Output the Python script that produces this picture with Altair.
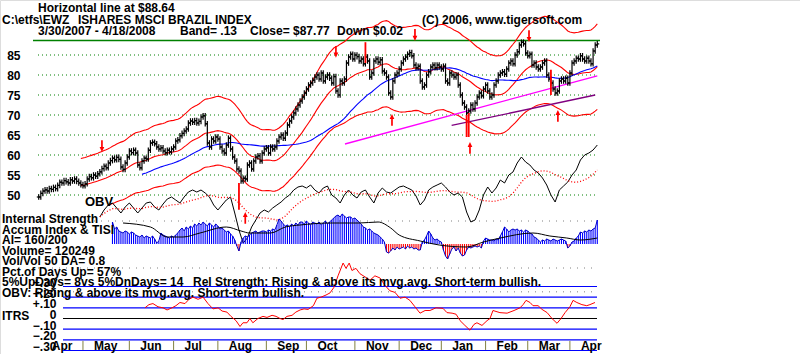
import altair as alt
import pandas as pd
import numpy as np

FONT = "Liberation Sans"

# ---------------- data ----------------
# daily closes, trading day 0 = 3/30/2007 ... day 265 = 4/18/2008
close = [
    49.5, 50.4, 51.0, 51.3, 51.0, 51.6, 51.4, 51.9, 51.6,
    52.4, 53.2, 53.0, 53.6, 53.3, 53.0, 53.8, 53.5, 54.0, 53.4, 53.0,
    52.6, 52.3, 52.8, 54.0, 54.6, 54.3, 55.0, 54.7, 55.3,
    55.8, 56.6, 57.2, 56.8, 58.0, 58.6, 59.2, 58.8, 59.4, 58.9,
    57.0, 56.4, 58.0, 59.5, 61.0, 60.6, 61.2, 60.5,
    57.5, 56.8, 58.5, 59.2, 59.0, 61.2, 63.0, 63.2, 62.8,
    62.0, 61.5, 61.8, 61.0, 60.6, 61.2, 60.8, 61.5, 62.0,
    63.5, 63.8, 64.8, 65.4, 66.0, 66.5,
    68.0, 68.5, 68.2, 68.6, 68.0, 68.4, 69.5, 69.8, 67.8,
    63.0, 62.0, 64.0, 63.5, 64.5, 64.0, 62.0, 61.0, 60.5, 62.5,
    64.2, 61.5, 59.5, 58.5, 56.5, 56.0, 53.5, 54.2, 54.0,
    57.5, 58.0, 56.5, 58.5, 59.5, 59.8, 58.5, 60.5, 61.5,
    61.8, 60.5, 62.0, 61.5, 62.0, 63.5, 64.5, 65.0, 64.2, 65.5,
    67.5, 68.5, 69.5, 70.5, 71.5, 72.5, 73.5, 74.5, 75.5,
    76.5, 77.5, 78.0, 78.7, 79.5, 80.0, 79.0, 80.5, 78.5, 79.5, 80.0,
    79.2, 78.0, 79.6, 76.0, 75.0, 78.5, 78.0, 79.0, 83.0,
    84.5, 85.2, 84.0, 85.0, 84.6, 83.5, 84.0, 82.8, 84.5, 83.5,
    79.5, 80.5, 83.5, 84.0, 83.2, 83.8, 81.0, 80.5, 79.5, 75.5, 74.5,
    78.5, 80.0, 80.5, 81.5, 83.0, 84.0, 84.5, 85.2, 85.6, 84.8,
    82.5, 81.8, 82.2, 78.5, 77.0, 77.5, 80.0, 80.8, 82.0, 82.5,
    81.8, 82.5, 82.0, 81.5, 82.2, 78.5, 78.0, 80.5, 80.0, 79.5,
    80.0, 77.5, 75.0, 73.0, 72.0, 70.5, 71.0, 72.5, 71.5, 73.0,
    74.5, 75.5, 74.8, 76.5, 77.5, 76.0, 74.5, 75.0, 77.5, 78.5,
    80.0, 80.5, 80.8, 80.2, 81.5, 83.0, 83.5, 82.8, 85.0, 85.8,
    87.5, 88.2, 87.8, 85.5, 84.8, 85.2, 82.5, 83.0, 82.0, 81.5,
    82.0, 83.0, 83.5, 80.0, 79.0, 78.0, 76.5, 75.5, 76.0, 78.5,
    79.0, 78.5, 79.2, 78.0, 80.5, 83.0, 83.5, 84.2, 84.0, 84.8,
    84.0, 83.5, 84.2, 83.5, 82.8, 86.0, 87.5, 87.77,
]
signal_days = [95, 155, 203, 204, 243]
signal_high = [53.0, 88.2, 70.0, 70.5, 81.3]
signal_low = [46.3, 83.0, 64.5, 64.5, 75.0]

up_arrow_days = [98, 167.6, 204.6, 246.3]
up_arrow_price = [44.3, 68.8, 61.8, 69.8]
down_arrow_days = [30, 141, 178.5, 232.6]
down_arrow_price = [62.2, 85.8, 90.0, 89.7]

magenta_days = [145.3, 265]
magenta_price = [62.75, 79.8]
purple_days = [195.9, 264]
purple_price = [67.4, 75.0]
horizontal_level = 88.64
price_grid = [50, 55, 60, 65, 70, 75, 80, 85]

# OBV (relative units), every second trading day from day 29
obv_first_day = 29
obv = [28, 35, 40, 42, 37, 32, 38, 42, 37, 32,
       37, 42, 43, 38, 35, 41, 46, 48, 45, 42,
       48, 53, 55, 53, 55, 52, 48, 40, 35, 40,
       45, 48, 32, 15, 2, 7, 18, 25, 32, 35,
       33, 37, 40, 43, 47, 50, 55, 58, 59, 57,
       60, 55, 52, 57, 59, 50, 47, 42, 50, 55,
       50, 47, 53, 55, 48, 42, 52, 57, 53, 52,
       55, 58, 59, 57, 55, 49, 40, 45, 55, 58,
       60, 62, 58, 53, 50, 52, 48, 33, 23, 25,
       35, 50, 58, 52, 57, 65, 62, 70, 73, 82,
       88, 83, 80, 75, 72, 67, 60, 50, 43, 55,
       59, 63, 70, 75, 85, 90, 92, 95, 100]

# Accumulation index (relative units), daily from day 35
ai_first_day = 35
ai = [22, 15, 17, 13,
      12, 11, 13, 12, 10, 12, 11, 9,
      8, 7, 9, 6, 8, 7, 6, 8, 5,
      1, 3,
      11, 9, 8,
      7, 6, 8, 7, 9, 11,
      14, 16, 13, 17, 15, 18, 16,
      20, 18, 21, 19, 22, 20, 18, 21,
      19, 17, 20, 18, 15, 16,
      14, 12, 13, 10, 8,
      4, -2, -7, 2,
      6, 8, 7, 9,
      11, 12, 13, 11, 12, 13,
      13, 12, 14, 13, 15, 14, 19,
      25, 23, 20, 18,
      19, 17, 20, 18, 21, 19, 22,
      22, 20, 23, 21, 19, 22,
      21, 20, 22, 19, 21, 23, 20, 22, 24, 26,
      28, 29, 27, 30, 28, 26, 27,
      27, 25, 26, 24, 22, 20, 17,
      16, 14, 15, 13, 11, 10,
      9, 7, 5, 2,
      -8, -9, -7, -4, -6, -3, -5,
      -4, -3, -5, -2, -4, -3, -5, -4, -6,
      -6, 2, 4,
      8, 13, 10, 6,
      4, 5, 3, 2,
      -6, -12, -15, -10, -5,
      -3, -7, -4,
      -9, -12, -11, -6, -3,
      -4, -3, -2, -3, -2, -4,
      3, 6, 5, 4,
      4, 3, 5, 4, 8, 12,
      17, 15, 12, 14, 15,
      14, 15, 13, 14, 12, 14, 13, 11, 10,
      7, 6, 4, 2,
      4, 3, 5, 4, 3, 5, 4, 3, 4, 5, 4, 3,
      -4, -2,
      2, 3, 6, 8,
      12, 11, 13, 12, 14, 13, 15, 16, 24]

tisi_days = [40, 53, 61, 68.5, 76.5, 89, 96, 100, 110, 117, 124, 138, 152, 161,
             167, 171, 181, 190, 203, 211, 219, 234.5, 242.5, 250.5, 257, 265]
tisi_vals = [21, 17, 7, 7, 11, 17, 13, 11, 11, 17, 19, 21, 21, 22,
             16, 9, 3, -1, -3, 2, 6, 11, 8, 6, 4, 6]

itrs_days = [50.4, 52.3, 54.2, 56.6, 59, 60.9, 63.2, 65.1, 67, 69.4, 71.3, 73.2, 75.6, 78,
             80.3, 82.7, 85.1, 87, 89.3, 91.2, 93.6, 95.5, 96.9, 98.8, 100.2, 101.6, 104,
             106.4, 108.3, 110.7, 112.6, 114.5, 115.9, 117.8, 120.2, 122, 124, 125.9, 127.8,
             130.3, 132, 133.9, 136.3, 138.2, 140, 142, 144.4, 145.8, 147.3, 148.6, 150.5,
             152.4, 154.8, 157.2, 159.5, 161.9, 164.3, 166.6, 169, 171.4, 173.8, 176.1,
             178.5, 180.9, 183.3, 185.6, 188.5, 191.8, 193.7, 196.1, 198, 199.9, 202.2,
             204.6, 206.5, 207.9, 210.3, 212.7, 214.1, 215.5, 218.8, 222.2, 225.5, 228.3,
             229.8, 231.2, 233.1, 234.5, 236.9, 238.8, 241.2, 243.5, 245.9, 247.8, 249.7,
             252, 253.5, 255.3, 257.7, 260, 261.5, 263.9]
itrs_vals = [0.10, 0.13, 0.14, 0.11, 0.10, 0.08, 0.10, 0.12, 0.15, 0.14, 0.18, 0.20, 0.18, 0.20,
             0.14, 0.09, 0.10, 0.07, 0.06, 0.02, -0.02, -0.075, -0.04, -0.04, 0.0, -0.04, 0.0,
             0.02, 0.01, 0.03, 0.02, 0.0, -0.01, 0.02, 0.03, 0.06, 0.08, 0.09, 0.085,
             0.12, 0.19, 0.20, 0.22, 0.24, 0.29, 0.40, 0.52, 0.47, 0.52, 0.45, 0.47,
             0.42, 0.39, 0.36, 0.40, 0.38, 0.31, 0.26, 0.245, 0.19, 0.20, 0.17,
             0.11, 0.05, 0.075, 0.075, 0.10, 0.095, 0.055, 0.05, 0.04, -0.02, -0.065,
             -0.11, -0.055, -0.04, -0.065, -0.02, 0.0, 0.075, 0.055, 0.05, 0.075, 0.10,
             0.13, 0.17, 0.15, 0.12, 0.12, 0.085, 0.055, 0.0, -0.045, 0.0, 0.055,
             0.11, 0.17, 0.15, 0.13, 0.12, 0.13, 0.15]
itrs_levels = [0.3, 0.2, 0.1, -0.1, -0.2, -0.3]
itrs_ticks = [-0.3, -0.2, -0.1, 0.0, 0.1, 0.2, 0.3]

month_names = ["Apr", "May", "Jun", "Jul", "Aug", "Sep", "Oct", "Nov", "Dec",
               "Jan", "Feb", "Mar", "Apr"]
month_start = [1, 21, 43, 64, 85, 108, 127, 150, 171, 191, 212, 232, 252]

# ---------------- tables ----------------
px = pd.DataFrame({"d": np.arange(len(close)), "c": close})
prev = px["c"].shift(1).fillna(px["c"])
px["o"] = prev
px["hi"] = np.maximum(prev, px["c"]) + 0.7
px["lo"] = np.minimum(prev, px["c"]) - 0.7
px["xl"] = px["d"] - 0.9
px["xr"] = px["d"] + 0.9
ma21 = px["c"].rolling(21).mean()
px["ub"] = ma21 * 1.13
px["lb"] = ma21 * 0.87
px["mid"] = ma21
px["ma50"] = px["c"].rolling(50).mean()

sig = pd.DataFrame({"d": signal_days, "hi": signal_high, "lo": signal_low})
upa = pd.DataFrame({"d": up_arrow_days, "p": up_arrow_price})
dna = pd.DataFrame({"d": down_arrow_days, "p": down_arrow_price})
mag = pd.DataFrame({"d": magenta_days, "p": magenta_price})
pur = pd.DataFrame({"d": purple_days, "p": purple_price})
grid = pd.DataFrame({"p": price_grid})
hline = pd.DataFrame({"p": [horizontal_level]})
obv_df = pd.DataFrame({"d": obv_first_day + 2 * np.arange(len(obv)), "v": obv})
ai_df = pd.DataFrame({"d": ai_first_day + np.arange(len(ai)), "a": ai})
ai_df["z"] = 0
tisi_df = pd.DataFrame({"d": tisi_days, "t": tisi_vals})
itrs_df = pd.DataFrame({"d": itrs_days, "r": itrs_vals})
lev_df = pd.DataFrame({"r": itrs_levels})
zero_df = pd.DataFrame({"r": [0.0]})
mon_df = pd.DataFrame({"d": month_start, "m": month_names})
mon_ticks = pd.DataFrame({"d": month_start[1:], "y1": -0.21, "y2": -0.295})
ai_ref = pd.DataFrame({"a": [23, -24]})
itrs_ref = pd.DataFrame({"r": [0.25]})
ONE = pd.DataFrame({"k": [0]})

# ---------------- scales ----------------
X = alt.Scale(domain=[0, 265], range=[38.7, 597.3], nice=False, zero=False)
PY = alt.Scale(domain=[40, 95], range=[235, 15], nice=False, zero=False)
OY = alt.Scale(domain=[0, 100], range=[245, 145], nice=False, zero=False)
AY = alt.Scale(domain=[-30, 30], range=[274, 214], nice=False, zero=False)
IY = alt.Scale(domain=[-0.3, 0.3], range=[350.5, 286.5], nice=False, zero=False)


def xq(f):
    return alt.X(f + ":Q", scale=X, axis=None)


def yq(f, s):
    return alt.Y(f + ":Q", scale=s, axis=None)


def label(s, x, y, size=12, color="black"):
    return alt.Chart(ONE).mark_text(
        text=s, align="left", baseline="middle", font=FONT, fontSize=size,
        fontWeight="bold", color=color
    ).encode(x=alt.value(x), y=alt.value(y))


layers = []

# price grid + horizontal line
layers.append(alt.Chart(grid).mark_rule(color="#008000", strokeWidth=1, strokeDash=[1, 3]).encode(
    x=alt.value(38), x2=alt.value(598), y=yq("p", PY)))
layers.append(alt.Chart(hline).mark_rule(color="#008000", strokeWidth=1.5).encode(
    x=alt.value(33), x2=alt.value(600), y=yq("p", PY)))

# accumulation reference dots + itrs ref dots
layers.append(alt.Chart(ai_ref).mark_rule(color="#808080", strokeWidth=1, strokeDash=[1, 6]).encode(
    x=alt.value(38), x2=alt.value(598), y=yq("a", AY)))
layers.append(alt.Chart(itrs_ref).mark_rule(color="#808080", strokeWidth=1, strokeDash=[1, 6]).encode(
    x=alt.value(38), x2=alt.value(598), y=yq("r", IY)))

# ITRS reference lines
layers.append(alt.Chart(lev_df).mark_rule(color="#0000ff", strokeWidth=1.2).encode(
    x=alt.value(63), x2=alt.value(597), y=yq("r", IY)))
layers.append(alt.Chart(zero_df).mark_rule(color="black", strokeWidth=1.2).encode(
    x=alt.value(63), x2=alt.value(597), y=yq("r", IY)))

# bands and moving averages
layers.append(alt.Chart(px).mark_line(color="red", strokeWidth=1.1).encode(x=xq("d"), y=yq("ub", PY)))
layers.append(alt.Chart(px).mark_line(color="red", strokeWidth=1.1).encode(x=xq("d"), y=yq("mid", PY)))
layers.append(alt.Chart(px).transform_filter(alt.datum.d >= 33).mark_line(color="red", strokeWidth=1.1).encode(
    x=xq("d"), y=yq("lb", PY)))
layers.append(alt.Chart(px).mark_line(color="#0000ff", strokeWidth=1.1).encode(x=xq("d"), y=yq("ma50", PY)))
layers.append(alt.Chart(mag).mark_line(color="#ff00ff", strokeWidth=1.3).encode(x=xq("d"), y=yq("p", PY)))
layers.append(alt.Chart(pur).mark_line(color="#800080", strokeWidth=1.3).encode(x=xq("d"), y=yq("p", PY)))

# price bars
layers.append(alt.Chart(px).mark_rule(color="black", strokeWidth=1.2).encode(
    x=xq("d"),
    y=alt.Y("lo:Q", scale=PY, axis=alt.Axis(
        values=price_grid, orient="left", offset=-20, domain=False, ticks=False, grid=False,
        labelFont=FONT, labelFontSize=12, labelFontWeight="bold", labelColor="black",
        labelPadding=0, labelFlush=False, labelOverlap=False, title=None)),
    y2="hi:Q"))
layers.append(alt.Chart(px).mark_rule(color="black", strokeWidth=1.2).encode(
    x=xq("d"), x2="xr:Q", y=yq("c", PY)))
layers.append(alt.Chart(px).mark_rule(color="black", strokeWidth=1.2).encode(
    x=xq("xl"), x2="d:Q", y=yq("o", PY)))
layers.append(alt.Chart(sig).mark_rule(color="red", strokeWidth=1.8).encode(
    x=xq("d"), y=yq("lo", PY), y2="hi:Q"))

# arrows
layers.append(alt.Chart(upa).mark_point(shape="arrow", filled=True, color="red", size=140, opacity=1).encode(
    x=xq("d"), y=yq("p", PY)))
layers.append(alt.Chart(dna).mark_point(shape="arrow", angle=180, filled=True, color="red", size=140, opacity=1).encode(
    x=xq("d"), y=yq("p", PY)))

# OBV and its average
layers.append(alt.Chart(obv_df).mark_line(color="black", strokeWidth=1).encode(x=xq("d"), y=yq("v", OY)))
layers.append(alt.Chart(obv_df).transform_window(
    ma="mean(v)", frame=[-10, 0], sort=[alt.SortField("d")]
).mark_line(color="red", strokeWidth=1.3, strokeDash=[1, 2]).encode(x=xq("d"), y=yq("ma", OY)))

# Accumulation histogram + TISI
layers.append(alt.Chart(ai_df).mark_rule(strokeWidth=1.1).encode(
    x=xq("d"), y=yq("a", AY), y2="z:Q",
    color=alt.condition(alt.datum.a > 0, alt.value("#0000ff"), alt.value("#ff0000"))))
layers.append(alt.Chart(ai_df).mark_line(color="#0000c8", strokeWidth=1).encode(x=xq("d"), y=yq("a", AY)))
layers.append(alt.Chart(tisi_df).mark_line(color="black", strokeWidth=1, interpolate="monotone").encode(
    x=xq("d"), y=yq("t", AY)))

# ITRS line with its axis
layers.append(alt.Chart(itrs_df).mark_line(color="red", strokeWidth=1).encode(
    x=xq("d"),
    y=alt.Y("r:Q", scale=IY, axis=alt.Axis(
        values=itrs_ticks, orient="left", offset=-56, domain=False, ticks=False, grid=False,
        labelFont=FONT, labelFontSize=12, labelFontWeight="bold", labelColor="black",
        labelPadding=0, labelFlush=False, labelOverlap=False, labelBaseline="alphabetic",
        labelExpr="datum.value > 0.001 ? '+' + replace(format(datum.value, '.2f'), '0.', '.') : "
                  "(datum.value < -0.001 ? replace(format(datum.value, '.2f'), '0.', '.') : '0')",
        title=None))))

# month ticks and labels
layers.append(alt.Chart(mon_ticks).mark_rule(color="#808040", strokeWidth=1).encode(
    x=xq("d"), y=yq("y1", IY), y2="y2:Q"))
layers.append(alt.Chart(mon_df).mark_text(
    align="left", baseline="middle", dx=11, font=FONT, fontSize=12, fontWeight="bold", color="black"
).encode(x=xq("d"), y=alt.value(345.5), text="m:N"))

# texts
layers += [
    label("Horizontal line at $88.64", 38, 8),
    label("C:\\etfs\\EWZ", 2, 19.5),
    label("ISHARES MSCI BRAZIL INDEX", 78, 19.5),
    label("3/30/2007 - 4/18/2008", 38, 31),
    label("Band= .13", 180, 31),
    label("Close= $87.77", 250, 31),
    label("Down $0.02", 337, 31),
    label("(C) 2006, www.tigersoft.com", 422, 20),
    label("OBV", 85, 202, size=13),
    label("Internal Strength", 2, 219),
    label("Accum Index & TISI", 2, 229.5),
    label("AI= 160/200", 2, 240),
    label("Volume= 120249", 2, 250.5),
    label("Vol/Vol 50 DA= 0.8", 2, 261),
    label("Pct.of Days Up= 57%", 2, 271.5),
    label("5%UpDays= 8vs 5%DnDays= 14", 2, 282),
    label("Rel Strength: Rising & above its mvg.avg. Short-term bullish.", 193, 282),
    label("OBV: Rising & above its mvg.avg. Short-term bullish.", 2, 292.5),
    label("ITRS", 2, 316),
]

chart = alt.layer(*layers).resolve_scale(y="independent").properties(
    width=800, height=354, autosize=alt.AutoSizeParams(type="none"), padding=0
).configure_view(strokeWidth=0).configure(background="white")

chart.save("out.html", embed_options={"renderer": "svg", "actions": False})
